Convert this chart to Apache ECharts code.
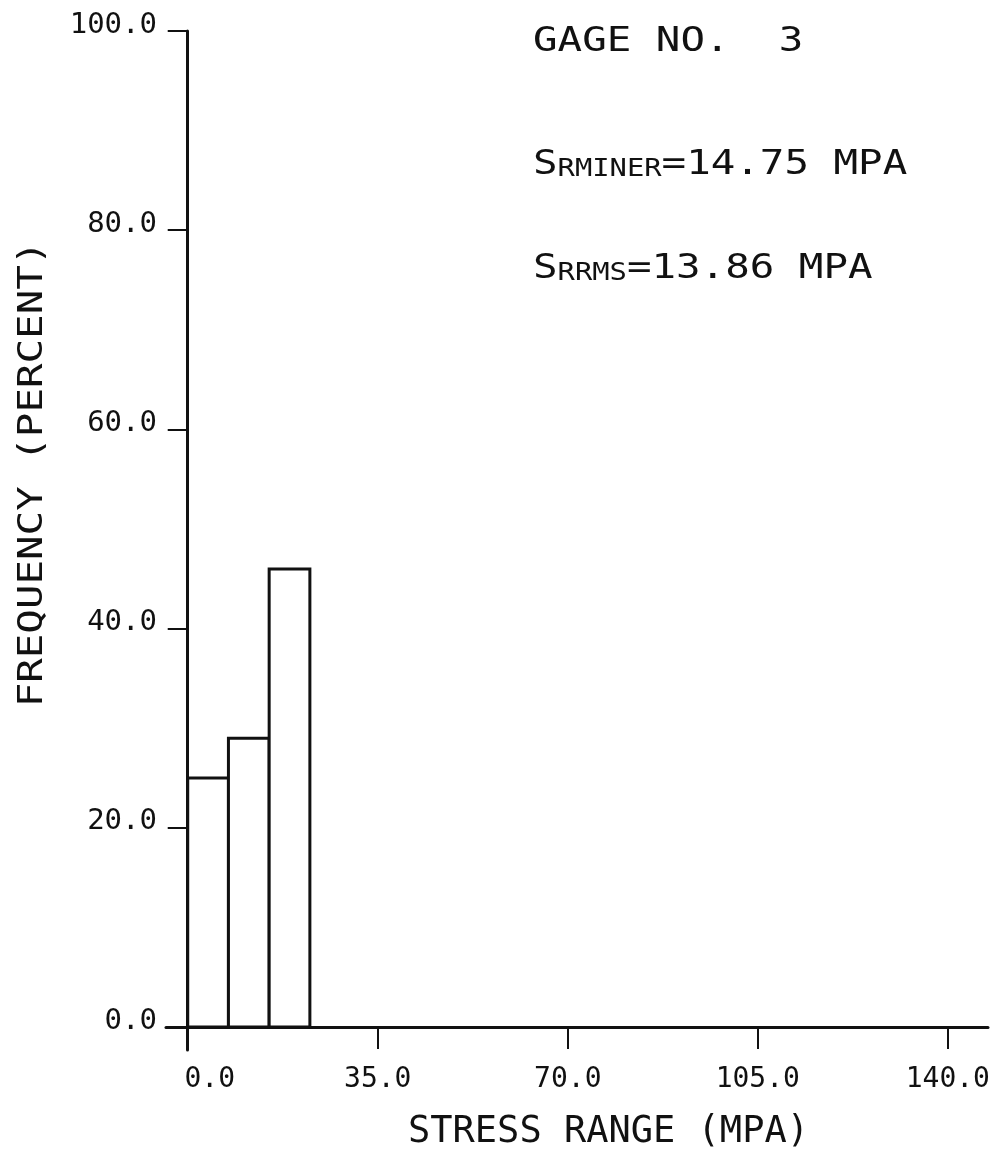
<!DOCTYPE html>
<html>
<head>
<meta charset="utf-8">
<script src="https://cdn.jsdelivr.net/npm/echarts@6/dist/echarts.min.js"></script>
<style>
html, body { margin: 0; padding: 0; background: #fff; }
#chart { width: 1007px; height: 1159px; }
</style>
</head>
<body>
<div id="chart"></div>
<script>
// stress range histogram, gage 3
const binStart = [0, 7.5, 15];
const binEnd = [7.5, 15, 22.5];
const frequency = [25, 29, 46];
const xTicks = [0, 35, 70, 105, 140];
const yTicks = [0, 20, 40, 60, 80, 100];

const font = "DejaVu Sans Mono";
const ink = "#111";

const chart = echarts.init(document.getElementById("chart"));

const barData = frequency.map((f, i) => [binStart[i], binEnd[i], f]);

// rich styles for the S-with-subscript lines
const subRich = {
    s: { fontFamily: font, fontSize: 34, lineHeight: 40, fill: ink, verticalAlign: "bottom" },
    b: { fontFamily: font, fontSize: 24, lineHeight: 24, fill: ink, verticalAlign: "bottom", padding: [10, 0, 0, 0] }
};

const option = {
    backgroundColor: "#fff",
    animation: false,
    grid: { left: 166, right: 19, top: 31, bottom: 109 },
    xAxis: {
        type: "value",
        min: -4,
        max: 147.4,
        axisLine: { onZero: true, lineStyle: { color: ink, width: 3 } },
        axisTick: { customValues: xTicks, length: 22, lineStyle: { color: ink, width: 2 } },
        axisLabel: {
            customValues: xTicks,
            margin: 16,
            fontFamily: font,
            fontSize: 28,
            color: ink,
            formatter: function (v) {
                return v === 0 ? "{z|0.0}" : v.toFixed(1);
            },
            rich: { z: { fontFamily: font, fontSize: 28, color: ink, padding: [0, 0, 0, 44] } }
        },
        splitLine: { show: false }
    },
    yAxis: {
        type: "value",
        min: -2.3,
        max: 100,
        axisLine: { onZero: true, lineStyle: { color: ink, width: 3 } },
        axisTick: { customValues: yTicks, length: 20, lineStyle: { color: ink, width: 2 } },
        axisLabel: {
            customValues: yTicks,
            margin: 9,
            fontFamily: font,
            fontSize: 29,
            lineHeight: 12,
            verticalAlign: "bottom",
            color: ink,
            formatter: function (v) { return v.toFixed(1); }
        },
        splitLine: { show: false }
    },
    graphic: [
        {
            type: "text", x: 408, y: 1132,
            style: { text: "STRESS RANGE (MPA)", font: "37px " + font, fill: ink, verticalAlign: "middle" }
        },
        {
            type: "text", x: 33, y: 474, rotation: Math.PI / 2, scaleX: 1.2,
            style: { text: "FREQUENCY (PERCENT)", font: "34px " + font, fill: ink, align: "center", verticalAlign: "middle" }
        },
        {
            type: "text", x: 533, y: 42, scaleX: 1.2,
            style: { text: "GAGE NO.  3", font: "34px " + font, fill: ink, verticalAlign: "middle" }
        },
        {
            type: "text", x: 533, y: 162, scaleX: 1.2,
            style: { text: "{s|S}{b|RMINER}{s|=14.75 MPA}", verticalAlign: "middle", rich: subRich }
        },
        {
            type: "text", x: 533, y: 266, scaleX: 1.2,
            style: { text: "{s|S}{b|RRMS}{s|=13.86 MPA}", verticalAlign: "middle", rich: subRich }
        }
    ],
    series: [
        {
            type: "custom",
            data: barData,
            renderItem: function (params, api) {
                const p0 = api.coord([api.value(0), 0]);
                const p1 = api.coord([api.value(1), api.value(2)]);
                return {
                    type: "rect",
                    shape: { x: p0[0], y: p1[1], width: p1[0] - p0[0], height: p0[1] - p1[1] },
                    style: { fill: "#fff", stroke: ink, lineWidth: 3 }
                };
            }
        }
    ]
};

chart.setOption(option);
</script>
</body>
</html>
